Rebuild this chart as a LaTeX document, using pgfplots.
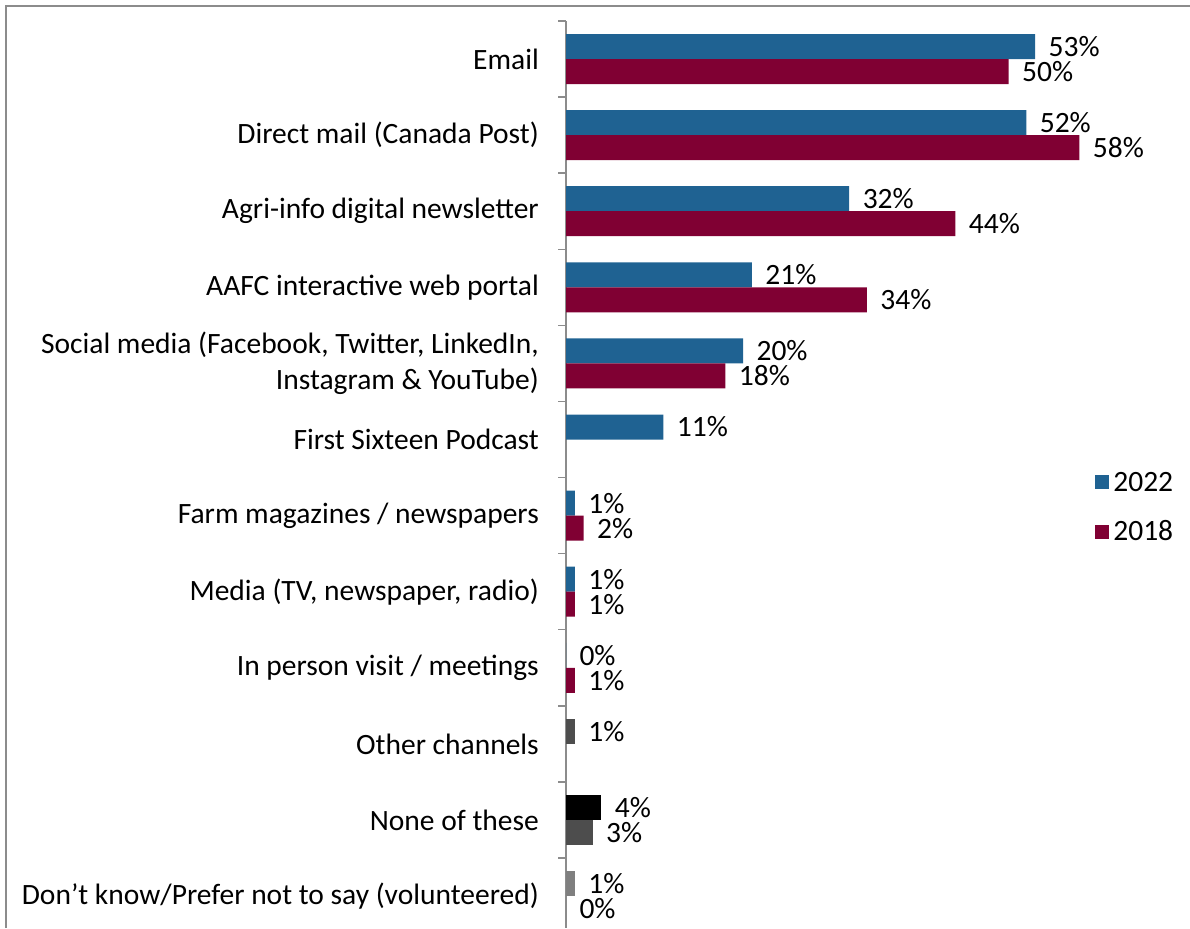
\documentclass[border=0pt]{standalone}
\usepackage{fontspec}
\setmainfont{Carlito}
\usepackage{pgfplots}
\pgfplotsset{compat=1.18}
\definecolor{cblue}{RGB}{31,98,146}
\definecolor{cred}{RGB}{128,0,51}
\definecolor{cdgray}{RGB}{77,77,77}
\definecolor{cgray}{RGB}{127,127,127}
\definecolor{cframe}{RGB}{140,140,140}
\begin{document}
\begin{tikzpicture}
\path[use as bounding box] (0pt,0pt) rectangle (1190pt,-928pt);
\draw[cframe, line width=2pt] (6pt,-928pt) -- (6pt,-6pt) -- (1190pt,-6pt);
\begin{axis}[
  at={(566pt,-21pt)}, anchor=north west,
  width=624pt, height=907pt, scale only axis,
  xbar, bar width=25pt,
  xmin=0, xmax=70.5,
  y dir=reverse, ymin=-0.5, ymax=11.42,
  axis x line=none, axis y line*=left,
  y axis line style={cframe, line width=1.5pt},
  ytick={0,...,11},
  major tick length=0pt,
  minor ytick={-0.5,0.5,...,10.5},
  minor tick length=8pt,
  tick align=outside,
  minor tick style={cframe, line width=1.5pt},
  yticklabels={Email, Direct mail (Canada Post), Agri-info digital newsletter, AAFC interactive web portal, {Social media (Facebook, Twitter, LinkedIn,\\Instagram \& YouTube)}, First Sixteen Podcast, Farm magazines / newspapers, {Media (TV, newspaper, radio)}, In person visit / meetings, Other channels, None of these, Don’t know/Prefer not to say (volunteered)},
  yticklabel style={align=right, inner sep=0pt, xshift=-27pt, font=\fontsize{29.5}{36}\selectfont},
  clip=false,
  point meta=x,
  nodes near coords={\pgfmathprintnumber{\pgfplotspointmeta}\%},
  nodes near coords style={font=\fontsize{29.5}{36}\selectfont, anchor=west, xshift=10pt},
  /pgf/number format/assume math mode=true,
  legend style={at={(axis description cs:0.848,0.505)}, anchor=north west, draw=none, fill=none, font=\fontsize{24}{29}\selectfont, row sep=24pt, inner sep=0pt, nodes={font=\fontsize{29.5}{36}\selectfont, inner xsep=4pt}},
  legend cell align=left,
  legend image code/.code={\fill[#1] (0pt,-7pt) rectangle (14pt,7pt);},
]
\addplot[fill=cblue, draw=none, bar shift=12.5pt] coordinates {(53,0) (52,1) (32,2) (21,3) (20,4) (11,5) (1,6) (1,7) (0,8)};
\addlegendentry{2022}
\addplot[fill=cred, draw=none, bar shift=-12.5pt] coordinates {(50,0) (58,1) (44,2) (34,3) (18,4) (2,6) (1,7) (1,8)};
\addlegendentry{2018}
\addplot[fill=cdgray, draw=none, bar shift=12.5pt, forget plot] coordinates {(1,9)};
\addplot[fill=black, draw=none, bar shift=12.5pt, forget plot] coordinates {(4,10)};
\addplot[fill=cdgray, draw=none, bar shift=-12.5pt, forget plot] coordinates {(3,10)};
\addplot[fill=cgray, draw=none, bar shift=12.5pt, forget plot] coordinates {(1,11)};
\addplot[fill=cgray, draw=none, bar shift=-12.5pt, forget plot] coordinates {(0,11)};
\end{axis}
\end{tikzpicture}
\end{document}
